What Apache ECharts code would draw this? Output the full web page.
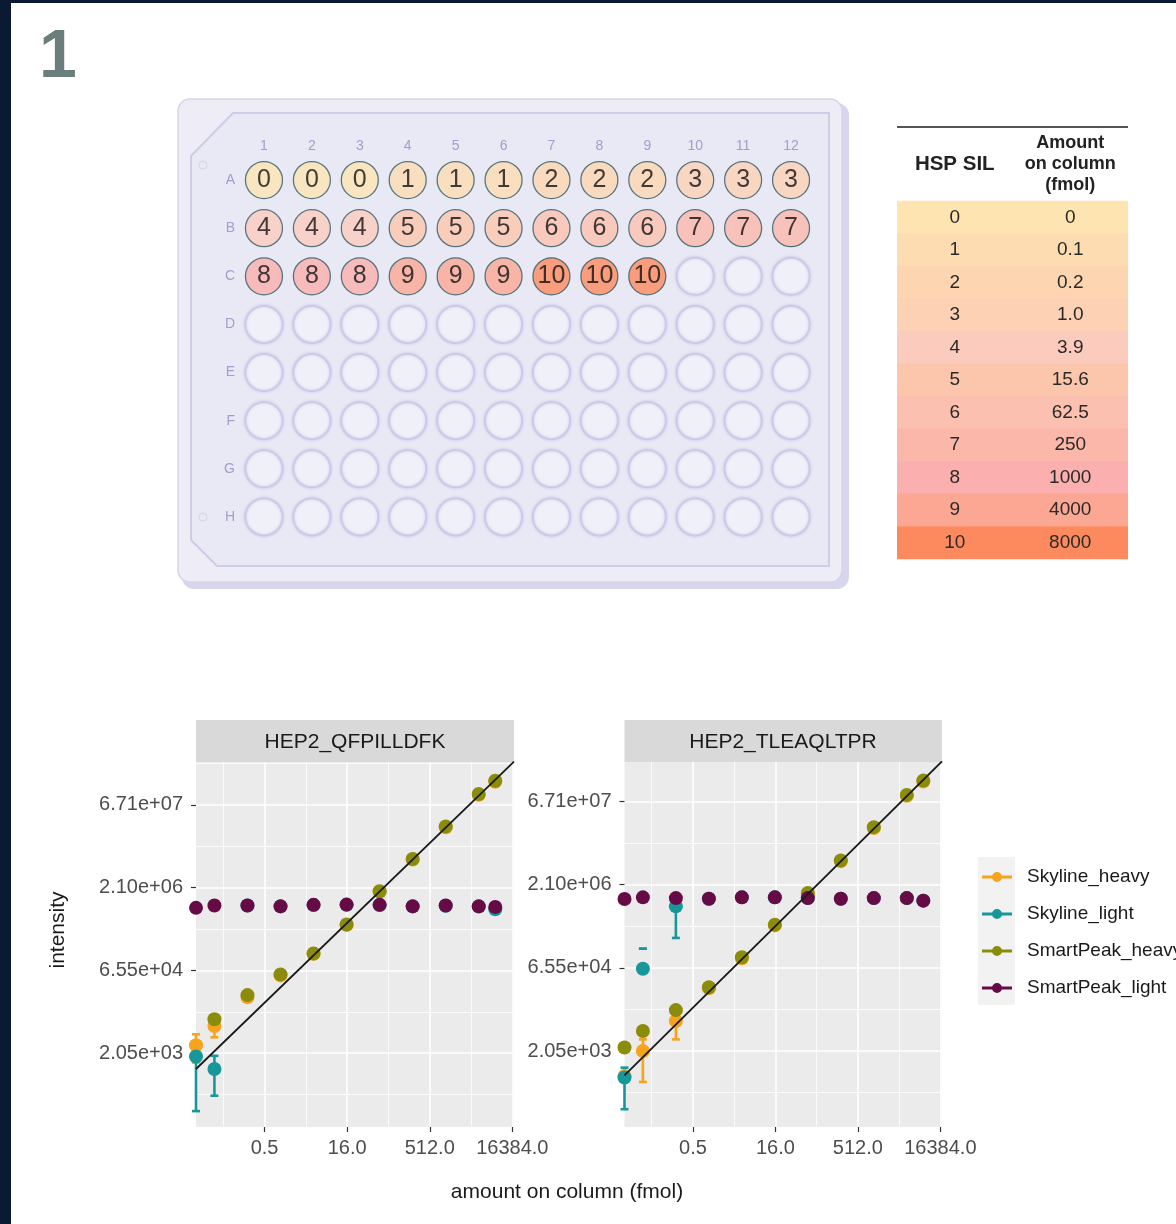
<!DOCTYPE html>
<html><head><meta charset="utf-8">
<script src="https://cdn.jsdelivr.net/npm/echarts@6/dist/echarts.min.js"></script>
<style>html,body{margin:0;padding:0;background:#fff}#c{width:1176px;height:1224px}</style>
</head><body><div id="c"></div><script>
// ---------------- data ----------------
const plateCols = ['1','2','3','4','5','6','7','8','9','10','11','12'];
const plateRows = ['A','B','C','D','E','F','G','H'];
const plateLayout = [
  [0,0,0,1,1,1,2,2,2,3,3,3],
  [4,4,4,5,5,5,6,6,6,7,7,7],
  [8,8,8,9,9,9,10,10,10,null,null,null],
  [null,null,null,null,null,null,null,null,null,null,null,null],
  [null,null,null,null,null,null,null,null,null,null,null,null],
  [null,null,null,null,null,null,null,null,null,null,null,null],
  [null,null,null,null,null,null,null,null,null,null,null,null],
  [null,null,null,null,null,null,null,null,null,null,null,null]
];
const tableHeaders = ['HSP SIL', 'Amount\non column\n(fmol)'];
const hspLevels = [0,1,2,3,4,5,6,7,8,9,10];
const amountLabels = ['0','0.1','0.2','1.0','3.9','15.6','62.5','250','1000','4000','8000'];
const levelColors = ['#fde4b1','#fddcb1','#fdd6b1','#fcd1b4','#fbcbbd','#fcc6ad','#fcc0b0','#fbb7aa','#fbafae','#fba794','#fc8a5e'];

const peptides = ['HEP2_QFPILLDFK', 'HEP2_TLEAQLTPR'];
const seriesNames = ['Skyline_heavy', 'Skyline_light', 'SmartPeak_heavy', 'SmartPeak_light'];
const seriesColors = ['#f7a31c', '#18979a', '#8c8c0c', '#670b46'];
const amountOnColumn = [0, 0.061, 0.244, 0.977, 3.906, 15.625, 62.5, 250, 1000, 4000, 8000];
const xTicks = [0.5, 16, 512, 16384];
const yTicks = [2048, 65536, 2097152, 67108864];

// HEP2_QFPILLDFK
const qfp_skylineHeavy    = [2857, 6383, 21200, 53200, 131000, 441000, 1760000, 6820000, 26300000, 102000000, 177000000];
const qfp_skylineHeavyLo  = [1380, 3985, null, null, null, null, null, null, null, null, null];
const qfp_skylineHeavyHi  = [4515, 7480, null, null, null, null, null, null, null, null, null];
const qfp_skylineLight    = [1783, 1053, 990000, 955000, 1010000, 1020000, 1010000, 955000, 985000, 950000, 850000];
const qfp_skylineLightLo  = [181, 345, null, null, null, null, null, null, null, null, null];
const qfp_skylineLightHi  = [2521, 1833, null, null, null, null, null, null, null, null, null];
const qfp_smartpeakHeavy  = [null, 8480, 23300, 55500, 132900, 447000, 1800000, 6960000, 27100000, 106000000, 184700000];
const qfp_smartpeakLight  = [900000, 992000, 992000, 958000, 1020000, 1030000, 1020000, 958000, 992000, 958000, 932000];

// HEP2_TLEAQLTPR
const tle_skylineHeavy    = [724, 2048, 7130, 28000, 98000, 385000, 1430000, 5600000, 22300000, 85500000, 155000000];
const tle_skylineHeavyLo  = [null, 564, 3327, null, null, null, null, null, null, null, null];
const tle_skylineHeavyHi  = [null, 3327, 8780, null, null, null, null, null, null, null, null];
const tle_skylineLight    = [680, 63200, 851000, 1170000, 1240000, 1240000, 1200000, 1170000, 1200000, 1200000, 1080000];
const tle_skylineLightLo  = [181, 145500, 228000, null, null, null, null, null, null, null, null];
const tle_skylineLightHi  = [1024, 145500, 1380000, null, null, null, null, null, null, null, null];
const tle_smartpeakHeavy  = [2370, 4705, 11270, 29300, 102000, 397000, 1483000, 5770000, 23100000, 88600000, 160800000];
const tle_smartpeakLight  = [1160000, 1240000, 1200000, 1170000, 1240000, 1240000, 1200000, 1170000, 1200000, 1200000, 1080000];

// fitted calibration line: intensity = fitAt1fmol * amount^fitSlope
const fitAt1fmol = [33000, 24660];
const fitSlope = [0.9645, 0.981];

// ---------------- layout ----------------
const FONT = 'Liberation Sans, Arial, sans-serif';
const X_MIN = Math.pow(2, -5.15), X_MAX = Math.pow(2, 14.1);
const Y_RANGE = [[Math.pow(2, 6.54), Math.pow(2, 28.59)], [Math.pow(2, 6.43), Math.pow(2, 28.38)]];
const xMinor = [Math.pow(2,-3.5), Math.pow(2,1.5), Math.pow(2,6.5), Math.pow(2,11.5)];
const yMinor = [Math.pow(2,8.5), Math.pow(2,13.5), Math.pow(2,18.5), Math.pow(2,23.5), Math.pow(2,28.5)];
const panelGrids = [
  { left: 196, top: 762, width: 318, height: 365 },
  { left: 624.5, top: 762, width: 317.5, height: 365 }
];
const xval = a => (a === 0 ? X_MIN : a); // zero amount drawn at panel edge (like -Inf in ggplot)

const fmtY = v => Number(v).toExponential(2).replace(/e([+-])(\d)$/, 'e$10$2');

function logAxis(dir, gridIndex, range, ticks, minorTicks, minor) {
  const ax = {
    type: 'log', logBase: 2, gridIndex, min: range[0], max: range[1],
    axisLine: { show: false },
    splitLine: { show: true, lineStyle: { color: '#ffffff', width: minor ? 0.8 : 1.6 } },
    minorSplitLine: { show: false }
  };
  if (minor) {
    ax.axisTick = { show: false, customValues: minorTicks };
    ax.axisLabel = { show: false };
  } else {
    ax.axisTick = { show: true, customValues: ticks, length: 5, lineStyle: { color: '#333333', width: 1.2 } };
    ax.axisLabel = dir === 'x'
      ? { show: true, customValues: ticks, formatter: v => Number(v).toFixed(1), color: '#4d4d4d', fontSize: 20, fontFamily: FONT, margin: 11 }
      : { show: true, customValues: ticks, formatter: fmtY, color: '#4d4d4d', fontSize: 20, fontFamily: FONT, margin: 13 };
  }
  return ax;
}

const grids = [
  { left: 240, top: 156, width: 575, height: 385 },   // plate
  { left: 897, top: 201, width: 231, height: 358 },   // table
  Object.assign({ show: true, backgroundColor: '#ebebeb', borderWidth: 0 }, panelGrids[0]),
  Object.assign({ show: true, backgroundColor: '#ebebeb', borderWidth: 0 }, panelGrids[1])
];

const xAxes = [
  { type: 'category', gridIndex: 0, data: plateCols, position: 'top', axisLine: { show: false }, axisTick: { show: false },
    axisLabel: { color: '#a29ecb', fontSize: 14, fontFamily: FONT, margin: 3, interval: 0 }, splitLine: { show: false } },
  { type: 'category', gridIndex: 1, data: tableHeaders, position: 'top', axisLine: { show: false }, axisTick: { show: false },
    axisLabel: { color: '#222', fontSize: 18, fontWeight: 'bold', fontFamily: FONT, margin: 37, lineHeight: 21, verticalAlign: 'middle', interval: 0,
      formatter: (v, i) => (i === 0 ? '{big|' + v + '}' : v),
      rich: { big: { fontSize: 20.5, fontWeight: 'bold', fontFamily: FONT, color: '#222' } } } },
  logAxis('x', 2, [X_MIN, X_MAX], xTicks, xMinor, false),
  logAxis('x', 2, [X_MIN, X_MAX], xTicks, xMinor, true),
  logAxis('x', 3, [X_MIN, X_MAX], xTicks, xMinor, false),
  logAxis('x', 3, [X_MIN, X_MAX], xTicks, xMinor, true)
];
const yAxes = [
  { type: 'category', gridIndex: 0, data: plateRows, inverse: true, axisLine: { show: false }, axisTick: { show: false },
    axisLabel: { color: '#a29ecb', fontSize: 14, fontFamily: FONT, margin: 5 }, splitLine: { show: false } },
  { type: 'category', gridIndex: 1, data: hspLevels.map(String), inverse: true, show: false },
  logAxis('y', 2, Y_RANGE[0], yTicks, yMinor, false),
  logAxis('y', 2, Y_RANGE[0], yTicks, yMinor, true),
  logAxis('y', 3, Y_RANGE[1], yTicks, yMinor, false),
  logAxis('y', 3, Y_RANGE[1], yTicks, yMinor, true)
];

// ---------------- series builders ----------------
function pointSeries(name, color, xi, yi, values) {
  const data = [];
  amountOnColumn.forEach((a, i) => { if (values[i] != null) data.push([xval(a), values[i]]); });
  return { type: 'scatter', name, xAxisIndex: xi, yAxisIndex: yi, data, symbolSize: 14,
    itemStyle: { color, opacity: 1 }, clip: false, silent: true, emphasis: { disabled: true } };
}
function errorSeries(name, color, xi, yi, lows, highs) {
  const data = [];
  amountOnColumn.forEach((a, i) => { if (lows[i] != null && highs[i] != null) data.push([xval(a), lows[i], highs[i]]); });
  return { type: 'custom', name, xAxisIndex: xi, yAxisIndex: yi, data, encode: { x: 0, y: [1, 2] }, silent: true, clip: false,
    renderItem: (params, api) => {
      const x = api.value(0);
      const lo = api.coord([x, api.value(1)]);
      const hi = api.coord([x, api.value(2)]);
      const w = 4;
      const st = { stroke: color, lineWidth: 2.6, fill: null };
      return { type: 'group', children: [
        { type: 'line', shape: { x1: lo[0], y1: lo[1], x2: hi[0], y2: hi[1] }, style: st },
        { type: 'line', shape: { x1: lo[0] - w, y1: lo[1], x2: lo[0] + w, y2: lo[1] }, style: st },
        { type: 'line', shape: { x1: hi[0] - w, y1: hi[1], x2: hi[0] + w, y2: hi[1] }, style: st }
      ]};
    } };
}
function fitSeries(p, xi, yi) {
  return { type: 'line', name: 'fit' + p, xAxisIndex: xi, yAxisIndex: yi, symbol: 'none', silent: true, z: 4,
    data: [X_MIN, X_MAX].map(x => [x, fitAt1fmol[p] * Math.pow(x, fitSlope[p])]),
    lineStyle: { color: '#1a1a1a', width: 1.8 } };
}
const panelData = [
  { sh: qfp_skylineHeavy, shLo: qfp_skylineHeavyLo, shHi: qfp_skylineHeavyHi, sl: qfp_skylineLight, slLo: qfp_skylineLightLo, slHi: qfp_skylineLightHi, ph: qfp_smartpeakHeavy, pl: qfp_smartpeakLight },
  { sh: tle_skylineHeavy, shLo: tle_skylineHeavyLo, shHi: tle_skylineHeavyHi, sl: tle_skylineLight, slLo: tle_skylineLightLo, slHi: tle_skylineLightHi, ph: tle_smartpeakHeavy, pl: tle_smartpeakLight }
];

const series = [];
// plate wells
const filledWells = [], emptyWells = [];
plateLayout.forEach((row, r) => row.forEach((lv, c) => {
  if (lv == null) emptyWells.push([c, r]); else filledWells.push([c, r, lv]);
}));
series.push({ type: 'scatter', xAxisIndex: 0, yAxisIndex: 0, data: emptyWells, symbolSize: 37, silent: true,
  itemStyle: { color: '#f9f9fd', borderColor: '#cbc7e3', borderWidth: 2, shadowBlur: 3, shadowColor: 'rgba(150,140,205,0.4)' } });
series.push({ type: 'scatter', xAxisIndex: 0, yAxisIndex: 0, data: filledWells, symbolSize: 37, silent: true,
  itemStyle: { color: p => levelColors[p.value[2]], borderColor: '#2e5b63', borderWidth: 1.3 },
  label: { show: true, position: 'inside', formatter: p => String(p.value[2]), color: '#111', fontSize: 25, fontFamily: FONT } });
// table
series.push({ type: 'custom', xAxisIndex: 1, yAxisIndex: 1, silent: true, data: hspLevels.map((lv, i) => [0, i]), encode: { x: 0, y: 1 },
  renderItem: (params, api) => {
    const i = api.value(1);
    const c0 = api.coord([0, i]), c1 = api.coord([1, i]);
    const sz = api.size([1, 1]);
    const ts = { fontSize: 19, fontFamily: FONT, fill: '#2a2a2a', align: 'center', verticalAlign: 'middle', textAlign: 'center', textVerticalAlign: 'middle' };
    return { type: 'group', children: [
      { type: 'rect', shape: { x: c0[0] - sz[0] / 2, y: c0[1] - sz[1] / 2 - 0.3, width: sz[0] * 2, height: sz[1] + 0.6 }, style: { fill: levelColors[i] } },
      { type: 'text', x: c0[0], y: c0[1], style: Object.assign({ text: String(hspLevels[i]) }, ts) },
      { type: 'text', x: c1[0], y: c1[1], style: Object.assign({ text: amountLabels[i] }, ts) }
    ]};
  } });
// calibration panels
[0, 1].forEach(p => {
  const xi = 2 + p * 2, yi = 2 + p * 2;
  const d = panelData[p];
  series.push(errorSeries(seriesNames[0], seriesColors[0], xi, yi, d.shLo, d.shHi));
  series.push(pointSeries(seriesNames[0], seriesColors[0], xi, yi, d.sh));
  series.push(errorSeries(seriesNames[1], seriesColors[1], xi, yi, d.slLo, d.slHi));
  series.push(pointSeries(seriesNames[1], seriesColors[1], xi, yi, d.sl));
  series.push(pointSeries(seriesNames[2], seriesColors[2], xi, yi, d.ph));
  series.push(pointSeries(seriesNames[3], seriesColors[3], xi, yi, d.pl));
  series.push(fitSeries(p, xi, yi));
});

// ---------------- decorations ----------------
const T = (text, x, y, font, fill, extra) => Object.assign({ type: 'text', x, y, silent: true,
  style: { text, font, fill, align: 'center', verticalAlign: 'middle', textAlign: 'center', textVerticalAlign: 'middle' } }, extra || {});
const graphic = [
  { type: 'rect', shape: { x: 0, y: 0, width: 11, height: 1224 }, style: { fill: '#0b1a33' }, silent: true },
  { type: 'rect', shape: { x: 0, y: 0, width: 1176, height: 3 }, style: { fill: '#0b1a33' }, silent: true },
  { type: 'text', x: 39, y: 24, silent: true, style: { text: '1', font: 'bold 68px ' + FONT, fill: '#6b7d7c' } },
  // plate body
  { type: 'rect', shape: { x: 182, y: 103, width: 667, height: 486, r: 12 }, style: { fill: '#d8d6ec' }, silent: true, z: -5 },
  { type: 'rect', shape: { x: 178, y: 99, width: 664, height: 483, r: 12 }, style: { fill: '#eeedf7', stroke: '#d6d3ea', lineWidth: 1.5 }, silent: true, z: -4 },
  { type: 'polygon', shape: { points: [[233,113],[829,113],[829,566],[217,566],[191,540],[191,156]] }, style: { fill: '#e9e8f5', stroke: '#cfcce5', lineWidth: 2 }, silent: true, z: -3 },
  { type: 'circle', shape: { cx: 203, cy: 165, r: 4 }, style: { fill: 'none', stroke: '#d5d3e8', lineWidth: 1 }, silent: true, z: -2 },
  { type: 'circle', shape: { cx: 203, cy: 517, r: 4 }, style: { fill: 'none', stroke: '#d5d3e8', lineWidth: 1 }, silent: true, z: -2 },
  // table top rule
  { type: 'line', shape: { x1: 897, y1: 127, x2: 1128, y2: 127 }, style: { stroke: '#555', lineWidth: 2 }, silent: true },
  // facet strips
  { type: 'rect', shape: { x: 196, y: 720, width: 318, height: 42 }, style: { fill: '#d9d9d9' }, silent: true },
  { type: 'rect', shape: { x: 624.5, y: 720, width: 317.5, height: 42 }, style: { fill: '#d9d9d9' }, silent: true },
  T(peptides[0], 355, 742, '21px ' + FONT, '#1a1a1a'),
  T(peptides[1], 783, 742, '21px ' + FONT, '#1a1a1a'),
  T('intensity', 58, 930, '21px ' + FONT, '#1a1a1a', { rotation: Math.PI / 2 }),
  T('amount on column (fmol)', 567, 1192, '21px ' + FONT, '#1a1a1a'),
  // legend key background
  { type: 'rect', shape: { x: 978, y: 857, width: 37, height: 148 }, style: { fill: '#f2f2f2' }, silent: true }
];

const legendIcon = 'path://M0,5h11v3h-11z M19,5h11v3h-11z M10,6.5a5,5 0 1,1 10,0a5,5 0 1,1 -10,0z';

const option = {
  animation: false,
  backgroundColor: '#ffffff',
  textStyle: { fontFamily: FONT },
  grid: grids,
  xAxis: xAxes,
  yAxis: yAxes,
  legend: {
    orient: 'vertical', left: 982, top: 866, padding: 0, itemWidth: 30, itemHeight: 12, itemGap: 15,
    selectedMode: false,
    textStyle: { fontSize: 19, color: '#1a1a1a', fontFamily: FONT, lineHeight: 22, padding: [0, 0, 0, 10] },
    data: seriesNames.map((n, i) => ({ name: n, icon: legendIcon, itemStyle: { color: seriesColors[i] } }))
  },
  graphic,
  series
};
const chart = echarts.init(document.getElementById('c'), null, { renderer: 'canvas' });
chart.setOption(option);
</script></body></html>
